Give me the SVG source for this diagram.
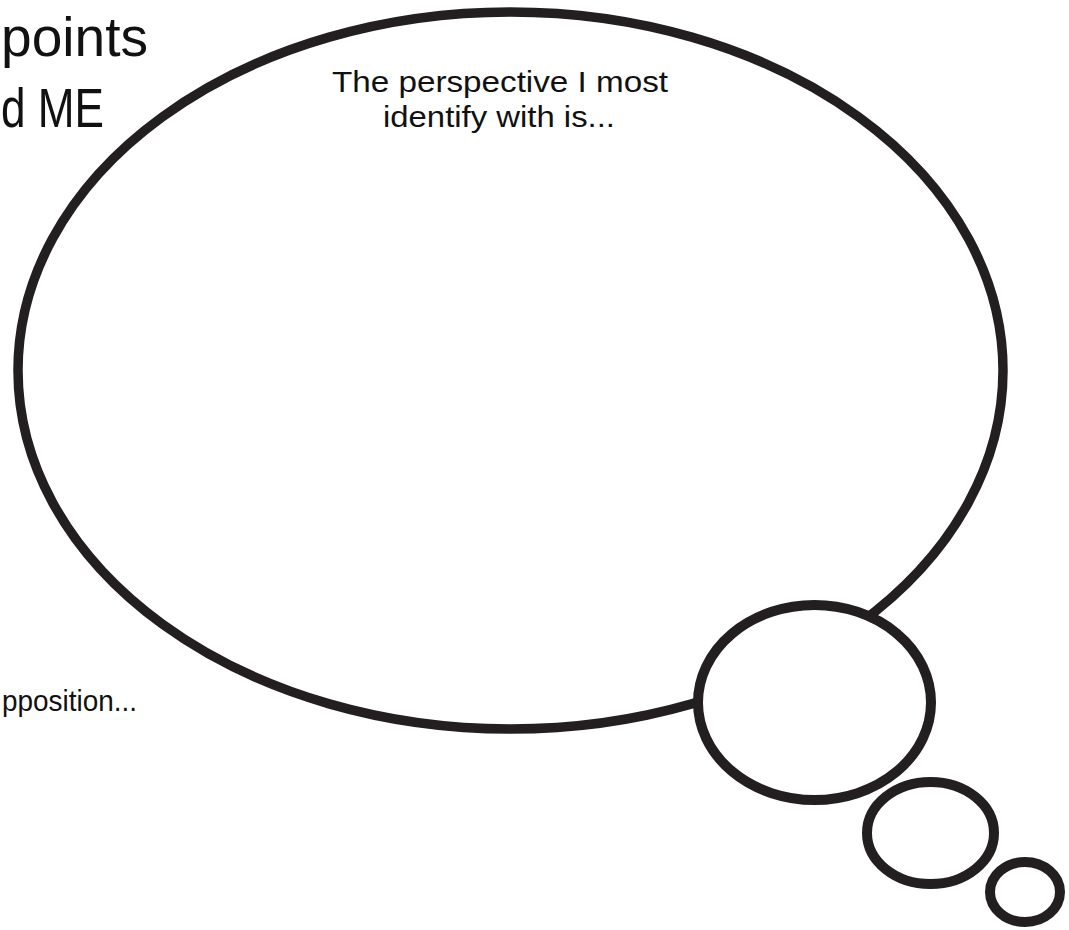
<svg xmlns="http://www.w3.org/2000/svg" width="1069" height="930" viewBox="0 0 1069 930">
<style>
.bub{fill:#fff;stroke:#231f20;stroke-width:10}
.big{fill:#fff;stroke:#231f20;stroke-width:9.5}
.t{font-family:"Liberation Sans","DejaVu Sans",sans-serif;fill:#111}
</style>
<rect width="1069" height="930" fill="#fff"/>
<g id="title">
<text class="t" x="1" y="56" font-size="56" textLength="147" lengthAdjust="spacingAndGlyphs">points</text>
<text class="t" x="1" y="127" font-size="56" textLength="103" lengthAdjust="spacingAndGlyphs">d ME</text>
</g>
<g id="label-left">
<text class="t" x="2" y="711" font-size="30" textLength="135" lengthAdjust="spacingAndGlyphs">pposition...</text>
</g>
<g id="thought-main">
<ellipse class="big" cx="510.5" cy="370.5" rx="492.5" ry="358.5"/>
<text class="t" x="500" y="92" font-size="30" text-anchor="middle" textLength="336" lengthAdjust="spacingAndGlyphs">The perspective I most</text>
<text class="t" x="499" y="127" font-size="30" text-anchor="middle" textLength="232" lengthAdjust="spacingAndGlyphs">identify with is...</text>
</g>
<g id="bubble-1"><ellipse class="bub" cx="814.5" cy="702.5" rx="116.5" ry="97.5"/></g>
<g id="bubble-2"><ellipse class="bub" cx="930.5" cy="833" rx="63.5" ry="51"/></g>
<g id="bubble-3"><ellipse class="bub" cx="1025" cy="892" rx="35" ry="30"/></g>
<g id="connectors"></g>
</svg>
